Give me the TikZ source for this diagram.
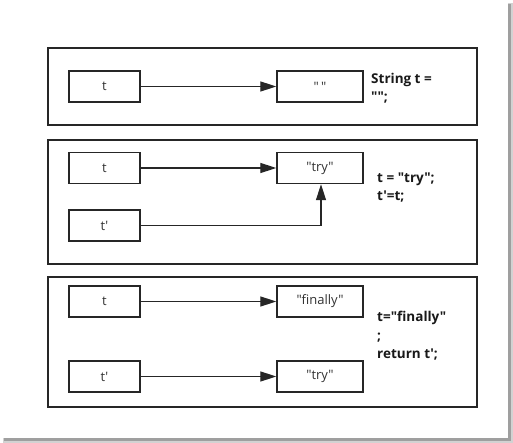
\documentclass[tikz,border=0pt]{standalone}
\usepackage{fontspec}
\setmainfont{Open Sans}[Ligatures=TeXOff]
\usetikzlibrary{arrows.meta,positioning}
\tikzset{
  panel/.style={draw=black!85, line width=1.6pt},
  cell/.style={draw=black!85, line width=1.4pt, minimum width=71pt, minimum height=31pt, inner sep=0pt, text=black!80, font=\fontsize{13}{14}\selectfont},
  valcell/.style={cell, minimum width=86pt},
  code/.style={anchor=west, align=left, inner sep=0pt, text=black!90, font=\fontsize{13.5}{18.5}\selectfont\bfseries},
  link/.style={draw=black!85, line width=1.3pt, -{Triangle[length=16pt,width=10pt]}}
}
\begin{document}
\begin{tikzpicture}[x=1pt,y=-1pt]
\useasboundingbox (0,0) rectangle (513,443);
% drop shadow of the picture frame
\fill[gray!35] (3,3) rectangle (513,443);
\fill[gray!75] (4,4) rectangle (511,441);
\fill[white] (0,0) rectangle (508,438);
% panels
\draw[panel] (48,48) rectangle (477,125);
\draw[panel] (48,140) rectangle (477,264);
\draw[panel] (48,277) rectangle (477,407);
% panel 1
\node[cell] (a1) at (104.5,86.5) {t};
\node[valcell] (v1) at (320,86.5) {"\,"};
\node[code] (c1) at (371,88) {String t =\\"";};
\draw[link] (a1) -- (v1);
% panel 2
\node[cell] (a2) at (104.5,168) {t};
\node[valcell] (v2) at (320,168) {"try"};
\node[cell] (b2) at (104.5,225.5) {t'};
\node[code] (c2) at (377,187.5) {t = "try";\\t'=t;};
\coordinate (k2) at (321,225.5);
\draw[link] (a2) -- (v2);
\draw[link] (b2.east) -- (k2) -- (k2 |- v2.south);
% panel 3
\node[cell] (a3) at (104.5,301.5) {t};
\node[valcell] (v3) at (320,301.5) {"finally"};
\node[cell] (b3) at (104.5,376.5) {t'};
\node[valcell] (w3) at (320,376.5) {"try"};
\node[code] (c3) at (377,336) {t="finally"\\;\\return t';};
\draw[link] (a3) -- (v3);
\draw[link] (b3) -- (w3);
\end{tikzpicture}
\end{document}
